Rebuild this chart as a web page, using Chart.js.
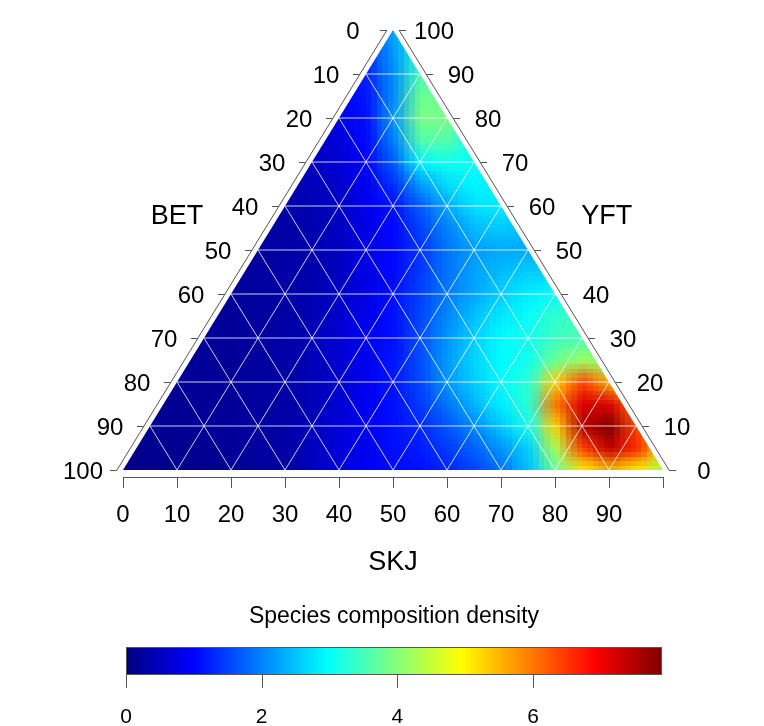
<!DOCTYPE html>
<html>
<head>
<meta charset="utf-8">
<script src="https://cdn.jsdelivr.net/npm/chart.js@4.4.1/dist/chart.umd.min.js"></script>
<style>
html,body{margin:0;padding:0;background:#fff;}
canvas{display:block;}
</style>
</head>
<body>
<canvas id="c" width="764" height="726"></canvas>
<script>
// ---------------- data ----------------
const titleBottom = 'SKJ';
const titleLeft = 'BET';
const titleRight = 'YFT';
const ternaryTicks = [0, 10, 20, 30, 40, 50, 60, 70, 80, 90, 100];
const bottomTickLabels = ['0', '10', '20', '30', '40', '50', '60', '70', '80', '90'];
const leftTickLabels = ['0', '10', '20', '30', '40', '50', '60', '70', '80', '90', '100'];   // BET, top -> bottom-left
const rightTickLabels = ['0', '10', '20', '30', '40', '50', '60', '70', '80', '90', '100'];  // YFT, bottom-right -> top
const colorbarTitle = 'Species composition density';
const colorbarTicks = [0, 2, 4, 6];
const densityMax = 7.9;

// density grid: columns = horizontal position (SKJ + YFT/2), rows = YFT level (top to bottom)
const gridPos = [0, 5, 10, 15, 20, 25, 30, 35, 40, 45, 50, 55, 60, 65, 70, 75, 80, 85, 90, 95, 100];
const gridYFT = [100, 95, 90, 85, 80, 75, 70, 65, 60, 55, 50, 45, 40, 35, 30, 25, 20, 15, 10, 5, 0];
const dens100 = [1.0, 1.0, 1.0, 1.0, 1.0, 1.0, 1.0, 1.0, 1.0, 1.4, 2.3, 3.0, 3.2, 3.2, 3.2, 3.2, 3.2, 3.2, 3.2, 3.2, 3.2];
const dens95  = [1.0, 1.0, 1.0, 1.0, 1.0, 1.0, 1.0, 1.0, 1.0, 1.35, 2.2, 3.2, 3.4, 3.4, 3.4, 3.4, 3.4, 3.4, 3.4, 3.4, 3.4];
const dens90  = [0.9, 0.9, 0.9, 0.9, 0.9, 0.9, 0.9, 0.9, 1.0, 1.25, 2.1, 3.5, 3.6, 3.5, 3.5, 3.5, 3.5, 3.5, 3.5, 3.5, 3.5];
const dens85  = [0.8, 0.8, 0.8, 0.8, 0.8, 0.8, 0.8, 0.8, 0.9, 1.15, 2.1, 3.8, 3.8, 3.6, 3.6, 3.6, 3.6, 3.6, 3.6, 3.6, 3.6];
const dens80  = [0.5, 0.5, 0.5, 0.5, 0.5, 0.5, 0.5, 0.6, 0.8, 1.1, 2.2, 3.9, 3.9, 3.3, 3.2, 3.2, 3.2, 3.2, 3.2, 3.2, 3.2];
const dens75  = [0.45, 0.45, 0.45, 0.45, 0.45, 0.45, 0.45, 0.55, 0.7, 1.05, 2.0, 3.6, 3.6, 3.1, 3.0, 3.0, 3.0, 3.0, 3.0, 3.0, 3.0];
const dens70  = [0.4, 0.4, 0.4, 0.4, 0.4, 0.4, 0.45, 0.5, 0.65, 1.0, 1.7, 2.9, 3.1, 3.0, 2.9, 2.9, 2.9, 2.9, 2.9, 2.9, 2.9];
const dens65  = [0.35, 0.35, 0.35, 0.35, 0.35, 0.35, 0.4, 0.45, 0.6, 0.9, 1.35, 2.2, 2.7, 2.9, 2.85, 2.85, 2.85, 2.85, 2.85, 2.85, 2.85];
const dens60  = [0.3, 0.3, 0.3, 0.3, 0.3, 0.3, 0.35, 0.4, 0.55, 0.85, 1.1, 1.7, 2.3, 2.75, 2.8, 2.7, 2.7, 2.7, 2.7, 2.7, 2.7];
const dens55  = [0.3, 0.3, 0.3, 0.3, 0.3, 0.3, 0.3, 0.4, 0.5, 0.8, 1.05, 1.5, 2.0, 2.45, 2.55, 2.45, 2.45, 2.45, 2.45, 2.45, 2.45];
const dens50  = [0.25, 0.25, 0.25, 0.25, 0.25, 0.25, 0.3, 0.35, 0.5, 0.8, 1.05, 1.4, 1.9, 2.2, 2.3, 2.3, 2.3, 2.3, 2.3, 2.3, 2.3];
const dens45  = [0.25, 0.25, 0.25, 0.25, 0.25, 0.25, 0.3, 0.35, 0.5, 0.8, 1.05, 1.45, 1.9, 2.25, 2.45, 2.6, 2.6, 2.6, 2.6, 2.6, 2.6];
const dens40  = [0.2, 0.2, 0.2, 0.2, 0.2, 0.25, 0.3, 0.4, 0.55, 0.8, 1.1, 1.5, 1.95, 2.3, 2.6, 2.85, 3.0, 3.1, 3.1, 3.1, 3.1];
const dens35  = [0.2, 0.2, 0.2, 0.2, 0.2, 0.25, 0.3, 0.4, 0.6, 0.85, 1.1, 1.55, 2.05, 2.5, 2.8, 3.0, 3.35, 3.45, 3.45, 3.45, 3.45];
const dens30  = [0.2, 0.2, 0.2, 0.2, 0.2, 0.25, 0.3, 0.45, 0.65, 0.9, 1.1, 1.6, 2.15, 2.6, 2.95, 3.1, 3.45, 3.55, 3.55, 3.55, 3.55];
const dens25  = [0.2, 0.2, 0.2, 0.2, 0.2, 0.25, 0.3, 0.45, 0.65, 0.9, 1.15, 1.6, 2.2, 2.65, 2.95, 3.1, 3.8, 4.2, 4.0, 4.0, 4.0];
const dens20  = [0.2, 0.2, 0.2, 0.2, 0.2, 0.25, 0.3, 0.45, 0.6, 0.85, 1.15, 1.55, 2.15, 2.6, 2.95, 3.3, 5.3, 6.4, 5.6, 5.0, 5.0];
const dens15  = [0.15, 0.15, 0.15, 0.2, 0.2, 0.25, 0.3, 0.45, 0.65, 0.9, 1.1, 1.45, 1.9, 2.4, 2.85, 3.3, 6.0, 7.2, 7.2, 6.0, 5.2];
const dens10  = [0.15, 0.15, 0.15, 0.2, 0.2, 0.25, 0.3, 0.45, 0.7, 0.9, 1.1, 1.3, 1.65, 2.05, 2.55, 3.1, 5.3, 7.5, 7.9, 6.4, 5.4];
const dens5   = [0.12, 0.12, 0.15, 0.15, 0.2, 0.25, 0.3, 0.5, 0.7, 0.9, 1.1, 1.2, 1.45, 1.75, 2.15, 2.6, 4.3, 6.4, 7.4, 6.6, 5.2];
const dens0   = [0.1, 0.12, 0.12, 0.15, 0.18, 0.22, 0.3, 0.5, 0.7, 0.9, 1.05, 1.1, 1.25, 1.5, 1.85, 2.5, 3.7, 5.0, 5.5, 5.0, 4.2];
const densityRows = [dens100, dens95, dens90, dens85, dens80, dens75, dens70, dens65, dens60, dens55,
                     dens50, dens45, dens40, dens35, dens30, dens25, dens20, dens15, dens10, dens5, dens0];

// ---------------- helpers ----------------
const jetStops = [[0,0,127],[0,0,255],[0,127,255],[0,255,255],[127,255,127],[255,255,0],[255,127,0],[255,0,0],[127,0,0]];
function jet(v){
  let t = Math.max(0, Math.min(1, v / densityMax)) * (jetStops.length - 1);
  const i = Math.min(jetStops.length - 2, Math.floor(t));
  const f = t - i;
  const a = jetStops[i], b = jetStops[i + 1];
  return [0,1,2].map(k => Math.round(a[k] + (b[k] - a[k]) * f));
}

const points = [];
gridYFT.forEach((yv, r) => gridPos.forEach((xv, c) => points.push({x: xv, y: yv, v: densityRows[r][c]})));

const FONT = '"Liberation Sans", Arial, Helvetica, sans-serif';

const ternaryPlugin = {
  id: 'ternary',
  afterDraw(chart){
    const ctx = chart.ctx;
    const xs = chart.scales.x, ys = chart.scales.y;
    const X = v => xs.getPixelForValue(v);
    const Y = v => ys.getPixelForValue(v);
    // ternary -> cartesian
    const P = (skj, yft) => [X(skj + yft / 2), Y(yft)];

    // ---- heatmap ----
    const nC = gridPos.length, nR = gridYFT.length;
    const off = document.createElement('canvas'); off.width = nC; off.height = nR;
    const octx = off.getContext('2d');
    const img = octx.createImageData(nC, nR);
    const pts = chart.data.datasets[0].data;
    pts.forEach((p, idx) => {
      const col = jet(p.v);
      img.data[idx*4] = col[0]; img.data[idx*4+1] = col[1]; img.data[idx*4+2] = col[2]; img.data[idx*4+3] = 255;
    });
    octx.putImageData(img, 0, 0);
    const step = gridPos[1] - gridPos[0];
    const fine = document.createElement('canvas'); fine.width = 100; fine.height = 100;
    const fctx = fine.getContext('2d');
    fctx.imageSmoothingEnabled = true;
    fctx.drawImage(off, -step/2, -step/2, nC*step, nR*step);

    ctx.save();
    ctx.beginPath();
    ctx.moveTo(...P(0, 0)); ctx.lineTo(...P(100, 0)); ctx.lineTo(...P(0, 100)); ctx.closePath();
    ctx.clip();
    ctx.imageSmoothingEnabled = false;
    ctx.drawImage(fine, X(0), Y(100), X(100) - X(0), Y(0) - Y(100));

    // ---- white grid ----
    ctx.strokeStyle = 'rgba(255,255,255,0.8)';
    ctx.lineWidth = 1;
    ternaryTicks.slice(1, -1).forEach(t => {
      ctx.beginPath(); ctx.moveTo(...P(0, t)); ctx.lineTo(...P(100 - t, t)); ctx.stroke();
      ctx.beginPath(); ctx.moveTo(...P(t, 0)); ctx.lineTo(...P(t, 100 - t)); ctx.stroke();
      ctx.beginPath(); ctx.moveTo(...P(100 - t, 0)); ctx.lineTo(...P(0, 100 - t)); ctx.stroke();
    });
    ctx.restore();

    // ---- axes ----
    const axisCol = '#555';
    const off6 = 6, tickLen = 7;
    ctx.save();
    ctx.strokeStyle = axisCol; ctx.lineWidth = 1;
    ctx.fillStyle = '#000';
    ctx.font = '24px ' + FONT;

    // bottom axis (SKJ)
    const by = Y(0) + 7;
    ctx.beginPath(); ctx.moveTo(X(0), by + 0.5); ctx.lineTo(X(100), by + 0.5); ctx.stroke();
    ctx.textAlign = 'center'; ctx.textBaseline = 'alphabetic';
    ternaryTicks.forEach((t, i) => {
      const px = Math.round(X(t)) + 0.5;
      ctx.beginPath(); ctx.moveTo(px, by); ctx.lineTo(px, by + 11); ctx.stroke();
      if (bottomTickLabels[i] !== undefined) ctx.fillText(bottomTickLabels[i], X(t), by + 45);
    });

    // left axis (BET): BET = b  ->  SKJ = 0, YFT = 100 - b
    const lTop = P(0, 100), lBot = P(0, 0);
    ctx.beginPath(); ctx.moveTo(lTop[0] - off6, lTop[1]); ctx.lineTo(lBot[0] - off6, lBot[1]); ctx.stroke();
    ternaryTicks.forEach((b, i) => {
      const p = P(0, 100 - b);
      const ax = p[0] - off6, py = Math.round(p[1]) + 0.5;
      ctx.beginPath(); ctx.moveTo(ax, py); ctx.lineTo(ax - tickLen, py); ctx.stroke();
      ctx.fillText(leftTickLabels[i], ax - 34, p[1] + 8.6);
    });

    // right axis (YFT): YFT = v -> SKJ = 100 - v
    const rTop = P(0, 100), rBot = P(100, 0);
    ctx.beginPath(); ctx.moveTo(rTop[0] + off6, rTop[1]); ctx.lineTo(rBot[0] + off6, rBot[1]); ctx.stroke();
    ternaryTicks.forEach((v, i) => {
      const p = P(100 - v, v);
      const ax = p[0] + off6, py = Math.round(p[1]) + 0.5;
      ctx.beginPath(); ctx.moveTo(ax, py); ctx.lineTo(ax + tickLen, py); ctx.stroke();
      ctx.fillText(rightTickLabels[i], ax + 35, p[1] + 8.6);
    });

    // axis titles
    ctx.font = '27px ' + FONT;
    ctx.textAlign = 'center'; ctx.textBaseline = 'middle';
    ctx.fillText(titleLeft, X(10), Y(57.5));
    ctx.fillText(titleRight, X(89.6), Y(57.5));
    ctx.fillText(titleBottom, X(50), Y(0) + 93);

    // ---- colour bar ----
    const cbL = 126, cbR = 662, cbT = 647, cbB = 675;
    const C = v => cbL + (cbR - cbL) * v / densityMax;
    for (let px = cbL; px < cbR; px++) {
      const col = jet((px + 0.5 - cbL) / (cbR - cbL) * densityMax);
      ctx.fillStyle = 'rgb(' + col.join(',') + ')';
      ctx.fillRect(px, cbT, 1, cbB - cbT);
    }
    ctx.strokeStyle = axisCol;
    ctx.strokeRect(cbL + 0.5, cbT + 0.5, cbR - cbL - 1, cbB - cbT - 1);
    ctx.fillStyle = '#000';
    ctx.font = '21px ' + FONT;
    ctx.textBaseline = 'alphabetic';
    colorbarTicks.forEach(t => {
      const px = Math.round(C(t)) + 0.5;
      ctx.beginPath(); ctx.moveTo(px, cbB); ctx.lineTo(px, cbB + 13); ctx.stroke();
      ctx.fillText(String(t), C(t), 723);
    });
    ctx.font = '23px ' + FONT;
    ctx.textBaseline = 'middle';
    ctx.fillText(colorbarTitle, (cbL + cbR) / 2, 617);
    ctx.restore();
  }
};

new Chart(document.getElementById('c'), {
  type: 'scatter',
  data: { datasets: [{ label: 'density', data: points, pointRadius: 0, pointHoverRadius: 0, showLine: false }] },
  options: {
    responsive: false,
    devicePixelRatio: 1,
    animation: false,
    events: [],
    layout: { padding: { left: 123, right: 101, top: 30, bottom: 256 } },
    plugins: { legend: { display: false }, tooltip: { enabled: false } },
    scales: {
      x: { type: 'linear', min: 0, max: 100, display: false },
      y: { type: 'linear', min: 0, max: 100, display: false }
    }
  },
  plugins: [ternaryPlugin]
});
</script>
</body>
</html>
